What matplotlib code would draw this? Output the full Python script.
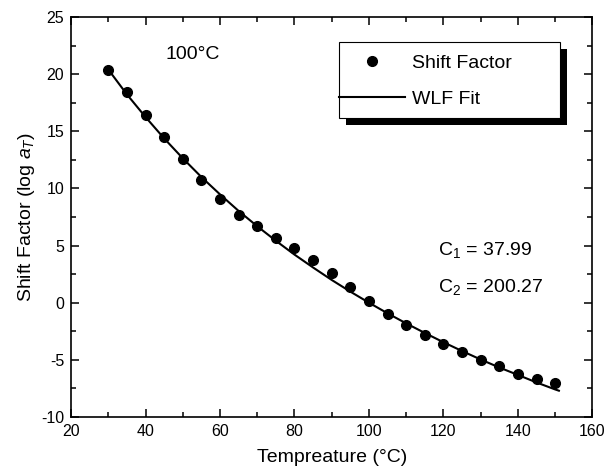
import numpy as np
import matplotlib
matplotlib.use('Agg')
import matplotlib.pyplot as plt
from matplotlib.patches import Rectangle

plt.rcParams['font.family'] = ['Liberation Sans', 'DejaVu Sans']
plt.rcParams['mathtext.fontset'] = 'custom'
plt.rcParams['mathtext.rm'] = 'Liberation Sans'
plt.rcParams['mathtext.it'] = 'Liberation Sans:italic'
plt.rcParams['axes.unicode_minus'] = False

# Измеренные сдвиговые факторы
temp_points = [30, 35, 40, 45, 50, 55, 60, 65, 70, 75, 80, 85, 90,
               95, 100, 105, 110, 115, 120, 125, 130, 135, 140, 145, 150]
shift_points = [20.35, 18.4, 16.45, 14.5, 12.55, 10.75, 9.1, 7.7, 6.7, 5.7, 4.75, 3.7, 2.6,
                1.4, 0.15, -1.0, -1.95, -2.8, -3.6, -4.35, -5.0, -5.55, -6.2, -6.65, -7.0]

# Кривая WLF
temp_fit = [30, 35, 40, 45, 50, 55, 60, 65, 70, 75, 80, 85, 90,
            95, 100, 105, 110, 115, 120, 125, 130, 135, 140, 145, 150, 151]
shift_fit = [20.41, 18.23, 16.25, 14.38, 12.64, 11.0, 9.48, 8.03, 6.69, 5.42, 4.21, 3.08, 1.99,
             0.97, 0.0, -0.93, -1.81, -2.65, -3.46, -4.23, -4.97, -5.67, -6.32, -6.98, -7.59, -7.7]

x_ticks = [20, 40, 60, 80, 100, 120, 140, 160]
y_ticks = [-10, -5, 0, 5, 10, 15, 20, 25]

fig = plt.figure(figsize=(6.07, 4.70), dpi=100)
ax = fig.add_axes([0.117, 0.1128, 0.859, 0.851])

ax.plot(temp_fit, shift_fit, 'k-', linewidth=1.5, label='WLF Fit')
ax.plot(temp_points, shift_points, 'ko', markersize=7, linestyle='none', label='Shift Factor')

ax.set_xlim(20, 160)
ax.set_ylim(-10, 25)
ax.set_xticks(x_ticks)
ax.set_yticks(y_ticks)
ax.set_xticks(np.arange(30, 160, 20), minor=True)
ax.set_yticks(np.arange(-7.5, 25, 5), minor=True)
ax.tick_params(which='both', direction='in', top=True, right=True, labelsize=11.5, width=1.1)
ax.tick_params(which='major', length=6, pad=5)
ax.tick_params(which='minor', length=3.5)
for s in ax.spines.values():
    s.set_linewidth(1.2)

ax.set_xlabel('Tempreature (°C)', fontsize=14, labelpad=7)
ax.set_ylabel('Shift Factor (log $a_T$)', fontsize=14, labelpad=3)

ax.text(45.4, 21.7, '100°C', fontsize=14, va='center', ha='left')
ax.text(118.6, 4.6, 'C$_1$ = 37.99', fontsize=14, va='center', ha='left')
ax.text(118.6, 1.4, 'C$_2$ = 200.27', fontsize=14, va='center', ha='left')

# Рамка легенды с тенью
ax.add_patch(Rectangle((0.5265, 0.73), 0.424, 0.19, transform=ax.transAxes,
                       facecolor='black', edgecolor='none', zorder=4))
ax.add_patch(Rectangle((0.513, 0.7475), 0.424, 0.19, transform=ax.transAxes,
                       facecolor='white', edgecolor='black', linewidth=0.8, zorder=5))

h, l = ax.get_legend_handles_labels()
leg = ax.legend(h[::-1], l[::-1], loc='center left', bbox_to_anchor=(0.513, 0.84),
                frameon=False, fontsize=14, borderpad=0, borderaxespad=0,
                handlelength=3.4, handletextpad=0.36, labelspacing=0.95, numpoints=1)
leg.set_zorder(6)

fig.savefig('out.png', dpi=100)
